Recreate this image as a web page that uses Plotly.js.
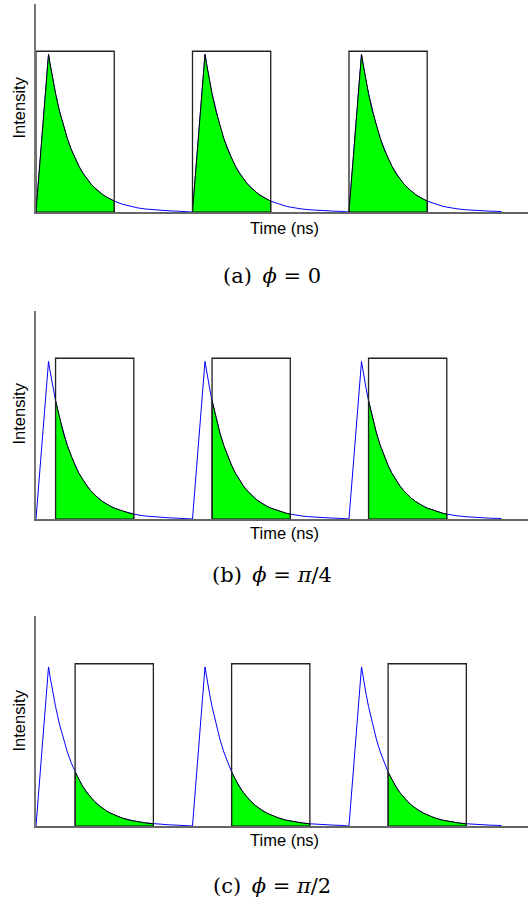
<!DOCTYPE html>
<html>
<head>
<meta charset="utf-8">
<script src="https://cdn.plot.ly/plotly-3.0.1.min.js"></script>
<style>html,body{margin:0;padding:0;background:#fff;}#chart{width:528px;height:905px;}</style>
</head>
<body>
<div id="chart"></div>
<script>
// ---- data ----
const pulseStarts = [0, 10, 20];              // ns, laser pulse arrival times
const pulseTime = [0, 0.8, 0.9, 1.0, 1.1, 1.25, 1.5, 1.75, 2.0, 2.25, 2.5, 2.75, 3.0, 3.25, 3.5, 3.75,
                   4.0, 4.25, 4.5, 4.75, 5.0, 5.5, 6.0, 6.25, 6.5, 7.0, 7.5, 8.0, 8.5, 9.0, 9.5, 9.75];
const pulseIntensity = [0, 1.000, 0.938, 0.880, 0.826, 0.751, 0.640, 0.546, 0.466, 0.397, 0.339, 0.289,
                        0.246, 0.210, 0.179, 0.153, 0.130, 0.111, 0.095, 0.081, 0.069, 0.050, 0.036,
                        0.031, 0.026, 0.019, 0.014, 0.010, 0.0074, 0.0054, 0.0039, 0.0033];
const gateOffsets = [0, 1.25, 2.5];           // ns, gate delay per panel
const gateWidth = 5;                           // ns
const gateHeight = 1.02;
const captions = ['(a)\u2002<i>ϕ</i> = 0', '(b)\u2002<i>ϕ</i> = <i>π</i>/4', '(c)\u2002<i>ϕ</i> = <i>π</i>/2'];
const xLabel = 'Time (ns)';
const yLabel = 'Intensity';

// ---- layout geometry ----
const W = 528, H = 905;
const panelPx = [[4, 212], [311, 519], [616, 826]];   // top, bottom in px
const timeLabelPx = [228, 533, 840];
const captionPx = [276, 575, 886];
const intensityPx = [108, 414, 721];
const xDomain = [36 / W, 1];
const py = v => 1 - v / H;

const traces = [];
const layout = {
  width: W, height: H,
  margin: {l: 0, r: 0, t: 0, b: 0},
  paper_bgcolor: '#fff', plot_bgcolor: 'rgba(0,0,0,0)',
  showlegend: false,
  annotations: []
};

panelPx.forEach((p, i) => {
  const n = i === 0 ? '' : String(i + 1);
  const xa = 'x' + n, ya = 'y' + n;
  layout['xaxis' + n] = {
    domain: xDomain, range: [0, 31.44], anchor: ya,
    showgrid: false, zeroline: false, showticklabels: false, ticks: '',
    showline: true, linecolor: '#666', linewidth: 1.6, fixedrange: true
  };
  layout['yaxis' + n] = {
    domain: [py(p[1]), py(p[0])], range: [0, 1.32], anchor: xa,
    showgrid: false, zeroline: false, showticklabels: false, ticks: '',
    showline: true, linecolor: '#777', linewidth: 1.6, fixedrange: true
  };

  // decay curve
  const cx = [], cy = [];
  pulseStarts.forEach(s => {
    pulseTime.forEach((t, k) => { cx.push(s + t); cy.push(pulseIntensity[k]); });
  });
  traces.push({x: cx, y: cy, xaxis: xa, yaxis: ya, type: 'scatter', mode: 'lines',
               line: {color: '#0000ff', width: 1}, hoverinfo: 'skip'});

  // gated (green) part
  const g0 = gateOffsets[i], g1 = gateOffsets[i] + gateWidth;
  pulseStarts.forEach(s => {
    const fx = [], fy = [];
    pulseTime.forEach((t, k) => {
      if (t >= g0 && t <= g1) { fx.push(s + t); fy.push(pulseIntensity[k]); }
    });
    fx.push(s + g1, s + g0); fy.push(0, 0);
    fx.push(fx[0]); fy.push(fy[0]);
    traces.push({x: fx, y: fy, xaxis: xa, yaxis: ya, type: 'scatter', mode: 'lines',
                 fill: 'toself', fillcolor: '#00ff00', line: {color: '#000', width: 1},
                 hoverinfo: 'skip'});
  });

  // gate windows
  pulseStarts.forEach(s => {
    traces.push({x: [s + g0, s + g0, s + g1, s + g1], y: [0, gateHeight, gateHeight, 0],
                 xaxis: xa, yaxis: ya, type: 'scatter', mode: 'lines',
                 line: {color: '#222', width: 1.3}, hoverinfo: 'skip'});
  });

  layout.annotations.push({
    text: xLabel, xref: 'paper', yref: 'paper', x: 284 / W, y: py(timeLabelPx[i]),
    xanchor: 'center', yanchor: 'middle', showarrow: false,
    font: {family: 'Liberation Sans, Arial, sans-serif', size: 16.5, color: '#000'}
  });
  layout.annotations.push({
    text: yLabel, xref: 'paper', yref: 'paper', x: 18.5 / W, y: py(intensityPx[i]),
    xanchor: 'center', yanchor: 'middle', showarrow: false, textangle: -90,
    font: {family: 'Liberation Sans, Arial, sans-serif', size: 16.5, color: '#000'}
  });
  layout.annotations.push({
    text: captions[i], xref: 'paper', yref: 'paper', x: 272 / W, y: py(captionPx[i]),
    xanchor: 'center', yanchor: 'middle', showarrow: false,
    font: {family: 'DejaVu Serif, Liberation Serif, serif', size: 21, color: '#000'}
  });
});

Plotly.newPlot('chart', traces, layout, {staticPlot: true, displayModeBar: false});
</script>
</body>
</html>
